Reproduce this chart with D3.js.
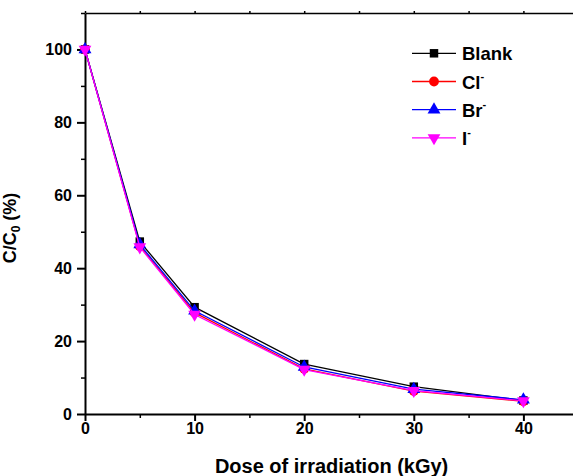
<!DOCTYPE html>
<html>
<head>
<meta charset="utf-8">
<script src="https://cdn.jsdelivr.net/npm/d3@7"></script>
<style>
  body { margin: 0; background: #fff; }
  svg text { font-family: Arial, "Liberation Sans", sans-serif; font-weight: bold; }
</style>
</head>
<body>
<div id="chart"></div>
<script>
// doses (kGy) and C/C0 (%) for each solution
const doses = [0, 5, 10, 20, 30, 40];
const blank = [100, 47.3, 29.3, 13.7, 7.5, 3.7];
const cl = [100, 46.0, 27.8, 12.4, 6.3, 3.5];
const br = [100, 46.5, 28.3, 12.9, 6.8, 3.9];
const iodide = [100, 45.8, 27.3, 12.2, 6.4, 3.6];
const xTicks = [0, 10, 20, 30, 40];
const yTicks = [0, 20, 40, 60, 80, 100];

const series = [
    {name: 'Blank', sup: '', values: blank, color: '#000000', symbol: d3.symbolSquare},
    {name: 'Cl', sup: '-', values: cl, color: '#ff0000', symbol: d3.symbolCircle},
    {name: 'Br', sup: '-', values: br, color: '#0000ff', symbol: d3.symbolTriangle},
    {name: 'I', sup: '-', values: iodide, color: '#ff00ff', symbol: 'down'}
];

const width = 573, height = 476;
const margin = {top: 13, left: 85, bottom: 62};
const plotH = height - margin.top - margin.bottom;

const svg = d3.select('#chart').append('svg')
    .attr('width', width)
    .attr('height', height);

const xScale = d3.scaleLinear().domain([0, 45]).range([margin.left, margin.left + 45 * 10.96]);
const yScale = d3.scaleLinear().domain([0, 110]).range([margin.top + plotH, margin.top]);

// minor ticks
const xMinor = d3.axisBottom(xScale).tickValues([5, 15, 25, 35, 45]).tickSize(4).tickFormat('');
const yMinor = d3.axisLeft(yScale).tickValues([10, 30, 50, 70, 90, 110]).tickSize(4).tickFormat('');

const xAxis = d3.axisBottom(xScale).tickValues(xTicks).tickSize(7).tickSizeOuter(0).tickPadding(2);
const yAxis = d3.axisLeft(yScale).tickValues(yTicks).tickSize(8).tickSizeOuter(0).tickPadding(5);

// top frame line
svg.append('g')
    .attr('transform', `translate(0, ${margin.top})`)
    .call(d3.axisTop(xScale).tickValues([0, 5, 10, 15, 20, 25, 30, 35, 40, 45]).tickSize(2).tickFormat('').tickSizeOuter(0))
    .call(g => g.selectAll('path, line').attr('stroke', '#000').attr('stroke-width', 1.5));

svg.append('g')
    .attr('transform', `translate(0, ${yScale(0)})`)
    .call(xMinor)
    .call(g => g.selectAll('line').attr('stroke-width', 1.5))
    .call(g => g.select('.domain').remove());
svg.append('g')
    .attr('transform', `translate(${margin.left}, 0)`)
    .call(yMinor)
    .call(g => g.selectAll('line').attr('stroke-width', 1.5))
    .call(g => g.select('.domain').remove());

const xg = svg.append('g')
    .attr('transform', `translate(0, ${yScale(0)})`)
    .call(xAxis);
xg.selectAll('line, path').attr('stroke-width', 2);
xg.selectAll('text').attr('font-size', 16).attr('fill', '#000');

const yg = svg.append('g')
    .attr('transform', `translate(${margin.left}, 0)`)
    .call(yAxis);
yg.selectAll('line, path').attr('stroke-width', 2);
yg.selectAll('text').attr('font-size', 16).attr('fill', '#000');

// axis titles
svg.append('text')
    .attr('x', xScale(22.5))
    .attr('y', 473)
    .attr('text-anchor', 'middle')
    .attr('font-size', 20)
    .text('Dose of irradiation (kGy)');

const yt = svg.append('text')
    .attr('transform', 'translate(16, 228) rotate(-90)')
    .attr('text-anchor', 'middle')
    .attr('font-size', 18);
yt.append('tspan').text('C/C');
yt.append('tspan').attr('font-size', 12).attr('dy', 4).text('0');
yt.append('tspan').attr('dy', -4).text(' (%)');

function markerPath(s) {
    if (s.symbol === 'down') {
        return d3.symbol().type(d3.symbolTriangle).size(70)();
    }
    return d3.symbol().type(s.symbol).size(s.symbol === d3.symbolCircle ? 75 : 72)();
}

const line = d3.line()
    .x((d, i) => xScale(doses[i]))
    .y(d => yScale(d));

series.forEach(s => {
    svg.append('path')
        .attr('d', line(s.values))
        .attr('fill', 'none')
        .attr('stroke', s.color)
        .attr('stroke-width', 1.3);
    svg.selectAll(null)
        .data(s.values)
        .join('path')
        .attr('d', markerPath(s))
        .attr('transform', (d, i) => `translate(${xScale(doses[i])}, ${yScale(d)})` + (s.symbol === 'down' ? ' rotate(180)' : ''))
        .attr('fill', s.color);
});

// legend
const legend = svg.append('g');
series.forEach((s, i) => {
    const y = 53.3 + i * 28.2;
    legend.append('line')
        .attr('x1', 412).attr('x2', 456)
        .attr('y1', y).attr('y2', y)
        .attr('stroke', s.color)
        .attr('stroke-width', 1.3);
    legend.append('path')
        .attr('d', markerPath(s))
        .attr('transform', `translate(434, ${y})` + (s.symbol === 'down' ? ' rotate(180)' : ''))
        .attr('fill', s.color);
    const t = legend.append('text')
        .attr('x', 462)
        .attr('y', y + 7)
        .attr('font-size', 18.5)
        .attr('fill', '#000');
    t.append('tspan').text(s.name);
    if (s.sup) {
        t.append('tspan').attr('font-size', 11).attr('dy', -9).text(s.sup);
    }
});
</script>
</body>
</html>
